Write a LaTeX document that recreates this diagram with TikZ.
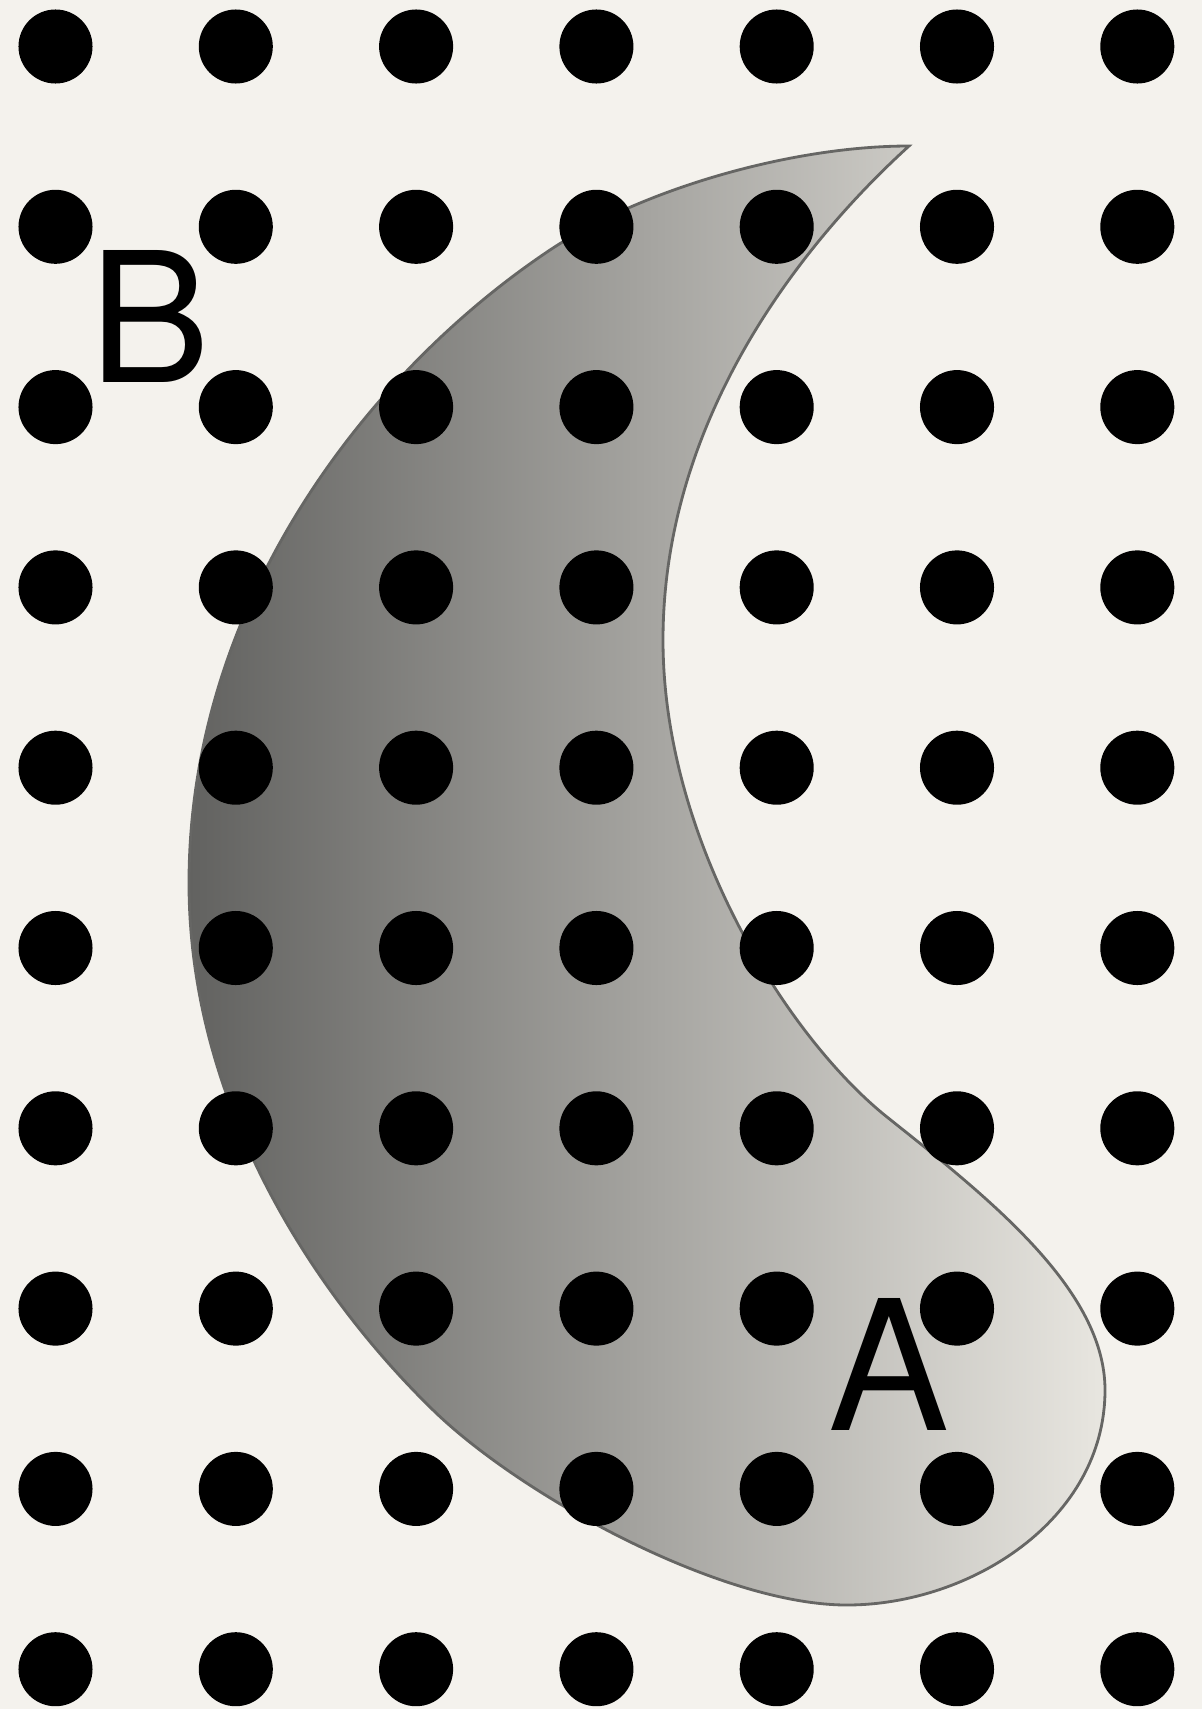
\documentclass[tikz,border=0pt]{standalone}
\usepackage{fontspec}
\setmainfont{TeX Gyre Heros}
\usetikzlibrary{positioning}

\definecolor{paper}{RGB}{244,242,237}
\definecolor{blobdark}{RGB}{98,98,96}
\definecolor{bloblight}{RGB}{232,230,224}
\definecolor{blobline}{RGB}{102,102,100}

\begin{document}
\begin{tikzpicture}[
  x=0.01cm, y=-0.01cm,
  spot/.style={fill=black},
  blob/.style={draw=blobline,line width=0.8pt,left color=blobdark,right color=bloblight},
  lbl/.style={inner sep=0pt,anchor=base,font=\fontsize{51.5}{60}\selectfont}
]
\fill[paper] (0,0) rectangle (1202,1709);
\useasboundingbox (0,0) rectangle (1202,1709);
% shaded region, tip at the top right
\coordinate (tip) at (909,146);
\draw[blob] (tip)
  .. controls (800,245) and (663,420) .. (663,640)
  .. controls (663,840) and (787,1037) .. (887,1117)
  .. controls (990,1199) and (1105,1290) .. (1105,1390)
  .. controls (1105,1520) and (970,1605) .. (847,1605)
  .. controls (720,1605) and (520,1495) .. (433,1410)
  .. controls (320,1300) and (189,1110) .. (189,883)
  .. controls (189,600) and (370,370) .. (550,250)
  .. controls (640,190) and (790,146) .. (tip) -- cycle;
% grid of dots
\foreach \i in {0,...,6}
  \foreach \j in {0,...,9}
    \fill[spot] (55.5+180.3*\i,46.5+180.3*\j) circle[radius=0.37cm];
\node[lbl] (B) at (150,382) {B};
\node[lbl] (A) at (889,1430) {A};
\end{tikzpicture}
\end{document}
